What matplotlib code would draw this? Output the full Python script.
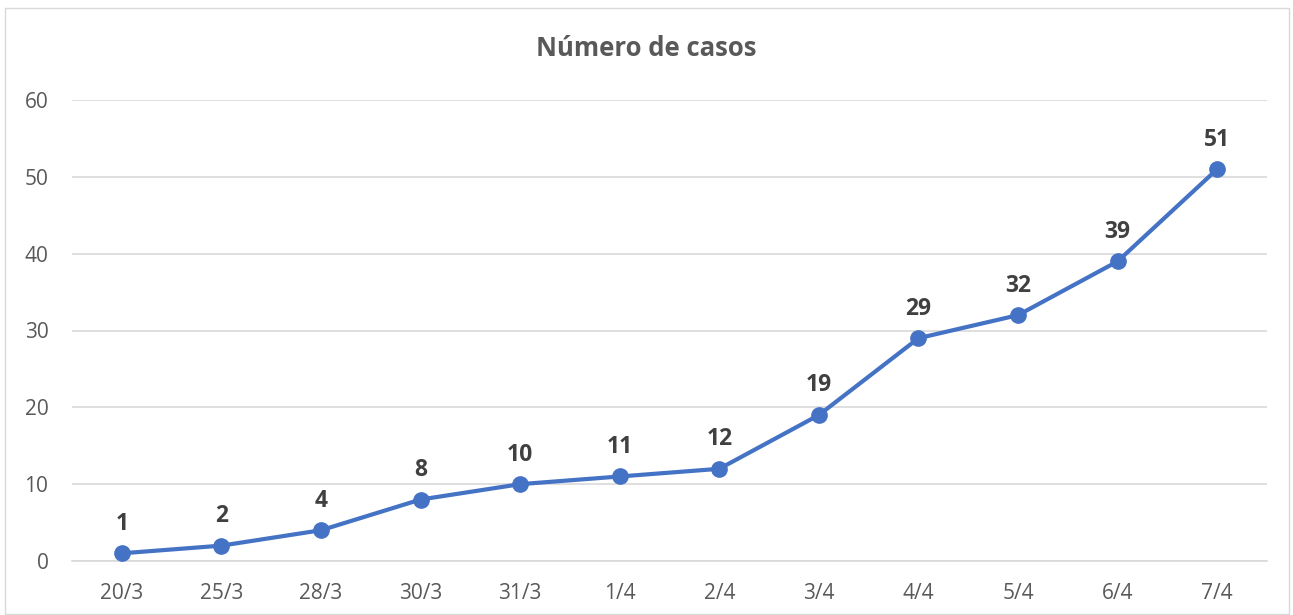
import matplotlib.pyplot as plt
from matplotlib.patches import Rectangle

fechas = ["20/3", "25/3", "28/3", "30/3", "31/3", "1/4", "2/4", "3/4", "4/4", "5/4", "6/4", "7/4"]
casos = [1, 2, 4, 8, 10, 11, 12, 19, 29, 32, 39, 51]
yticks = [0, 10, 20, 30, 40, 50, 60]

plt.rcParams['font.family'] = ['Open Sans', 'DejaVu Sans']

fig = plt.figure(figsize=(12.93, 6.15), dpi=100)
ax = fig.add_axes([72 / 1293, 1 - 561 / 615, (1267 - 72) / 1293, (561 - 100) / 615])

x = list(range(len(fechas)))
ax.plot(x, casos, color="#4472C4", linewidth=3, marker="o", markersize=11, zorder=3)
for xi, v in zip(x, casos):
    ax.annotate(str(v), (xi, v), xytext=(0, 17), textcoords="offset points",
                ha="center", va="baseline", fontsize=16.5, fontweight="bold", color="#404040")

ax.set_xlim(-0.5, len(fechas) - 0.5)
ax.set_ylim(0, 60)
ax.set_xticks(x)
ax.set_xticklabels(fechas)
ax.set_yticks(yticks)
ax.tick_params(axis="x", length=0, labelsize=15, labelcolor="#595959", pad=16)
ax.tick_params(axis="y", length=0, labelsize=15, labelcolor="#595959", pad=17)
ax.grid(axis="y", color="#D9D9D9", linewidth=1.2)
ax.set_axisbelow(True)
for s in ["top", "right", "left"]:
    ax.spines[s].set_visible(False)
ax.spines["bottom"].set_color("#D9D9D9")
ax.spines["bottom"].set_linewidth(1.2)

fig.text(0.5, 1 - 48 / 615, "Número de casos", ha="center", va="center",
         fontsize=18.5, fontweight="bold", color="#595959")
fig.patches.append(Rectangle((5 / 1293, 0.002), 1284 / 1293, 1 - 8 / 615 - 0.002,
                             transform=fig.transFigure, fill=False,
                             edgecolor="#D9D9D9", linewidth=1))

fig.savefig("out.png", dpi=100)
